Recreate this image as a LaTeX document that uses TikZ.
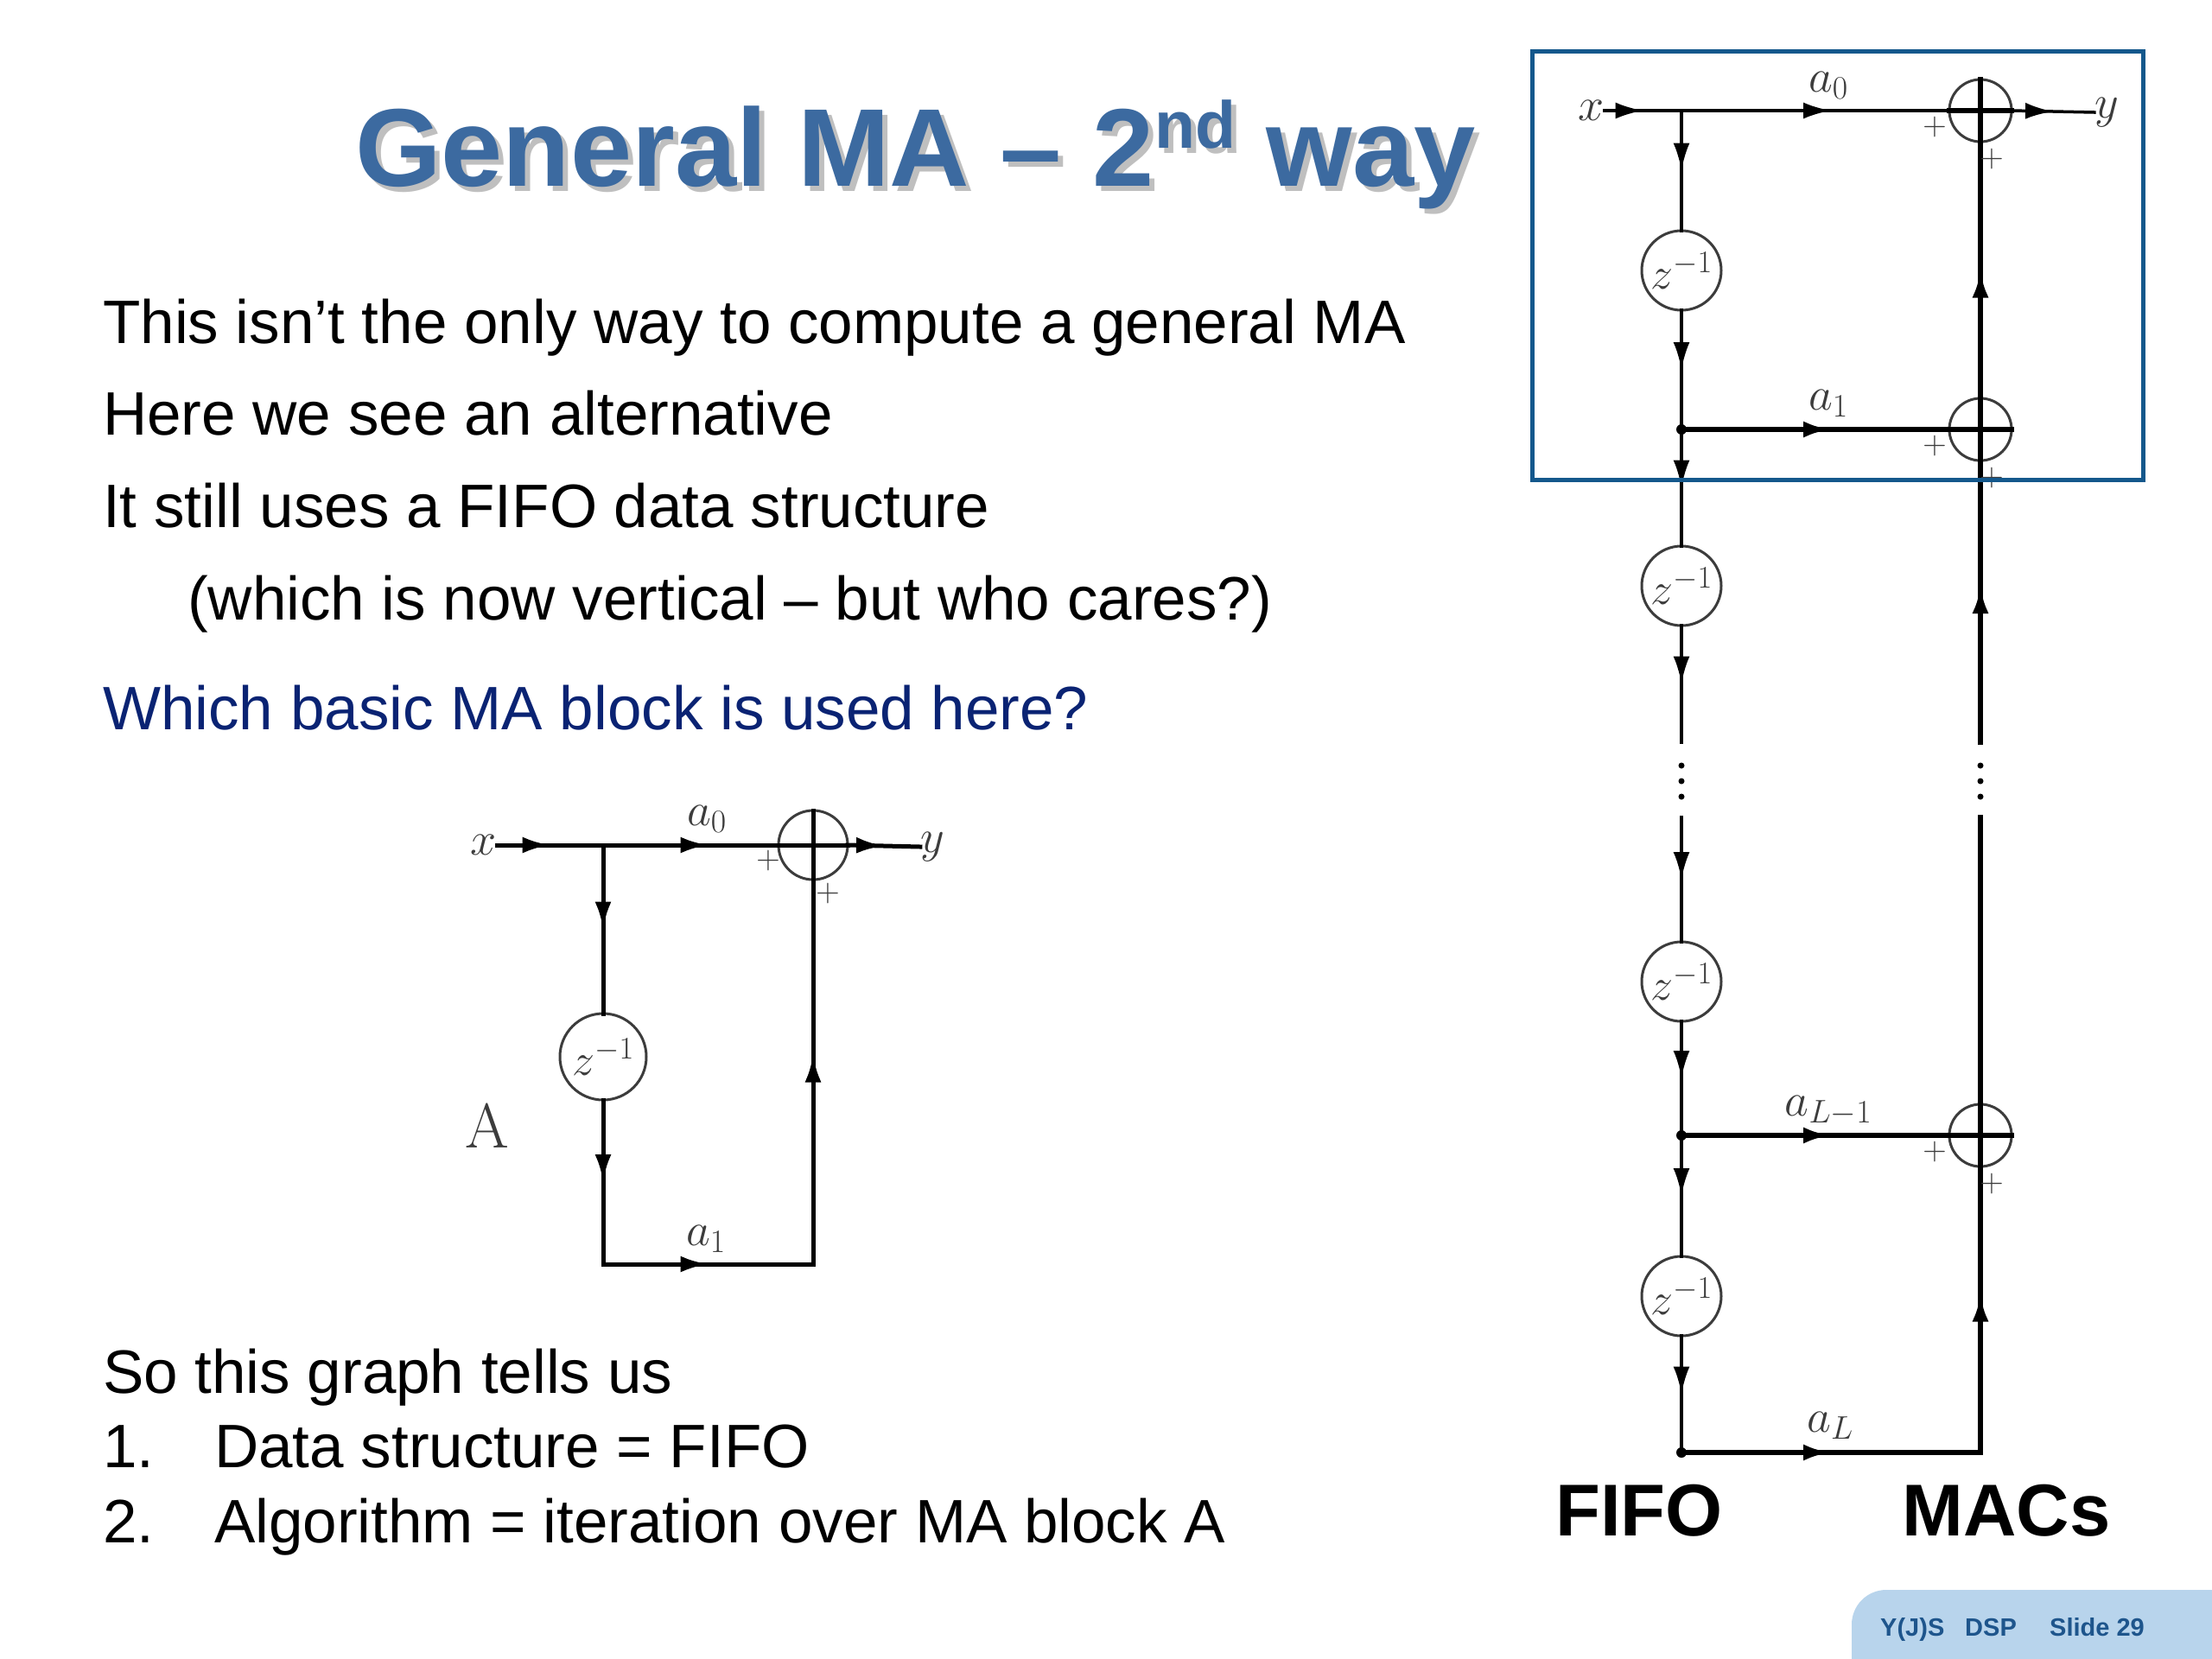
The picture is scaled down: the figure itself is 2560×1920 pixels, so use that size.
\RequirePackage{fix-cm}
\documentclass[tikz,border=0pt]{standalone}
\usepackage[no-math]{fontspec}
\setmainfont{Liberation Sans}
\usetikzlibrary{arrows.meta,decorations.markings}
\definecolor{titleblue}{RGB}{60,106,160}
\definecolor{boxblue}{RGB}{20,88,140}
\definecolor{navy}{RGB}{10,35,115}
\definecolor{footbg}{RGB}{184,212,236}
\definecolor{foottxt}{RGB}{30,85,140}
\definecolor{diagray}{RGB}{60,60,60}
\begin{document}
\begin{tikzpicture}[x=1pt,y=-1pt,
  body/.style={anchor=base west,inner sep=0pt,font=\fontsize{71}{80}\selectfont},
  titletxt/.style={anchor=base west,inner sep=0pt,font=\fontsize{128}{140}\selectfont\bfseries},
  big/.style={anchor=base,inner sep=0pt,font=\fontsize{85}{100}\selectfont\bfseries},
  foot/.style={anchor=base west,inner sep=0pt,text=foottxt,font=\fontsize{29}{34}\selectfont\bfseries},
  lbl/.style={inner sep=0pt,text=diagray,font=\fontsize{54}{60}\selectfont},
  plussign/.style={inner sep=0pt,text=diagray,font=\fontsize{38}{40}\selectfont},
  delaynode/.style={circle,draw=diagray,line width=3pt,inner sep=0pt,outer sep=0pt,minimum size=#1,text=diagray,font=\fontsize{52}{60}\selectfont},
  addernode/.style={circle,draw=diagray,line width=3pt,inner sep=0pt,outer sep=0pt,minimum size=#1},
  thinln/.style={line width=3.5pt,line cap=rect},
  thickln/.style={line width=6pt,line cap=rect},
  midln/.style={line width=5pt,line cap=rect},
  midarr/.style={postaction={decorate,decoration={markings,mark=at position 0.5 with {\arrow{Latex[length=32pt,width=19pt]}}}}},
  jdot/.style={circle,fill=black,inner sep=0pt,minimum size=12pt}
]
\useasboundingbox (0,0) rectangle (2560,1920);
\fill[white] (0,0) rectangle (2560,1920);

% ---------- title ----------
\node[titletxt,text=black!25] (titlesh) at (417,221) {General MA – 2\raisebox{44pt}{\fontsize{77}{80}\selectfont nd} way};
\node[titletxt,text=titleblue] (title) at (411,215) {General MA – 2\raisebox{44pt}{\fontsize{77}{80}\selectfont nd} way};

% ---------- body text ----------
\node[body] (t1) at (119,397) {This isn’t the only way to compute a general MA};
\node[body] (t2) at (119,503) {Here we see an alternative};
\node[body] (t3) at (119,610) {It still uses a FIFO data structure};
\node[body] (t4) at (217,717) {(which is now vertical – but who cares?)};
\node[body,text=navy] (t5) at (119,844) {Which basic MA block is used here?};
\node[body] (t6) at (119,1612) {So this graph tells us};
\node[body] (n1) at (119,1698) {1.};
\node[body] (t7) at (248,1698) {Data structure = FIFO};
\node[body] (n2) at (119,1785) {2.};
\node[body] (t8) at (248,1785) {Algorithm = iteration over MA block A};

% ---------- small diagram (block A) ----------
\node[lbl] (xA) at (560,978) {$x$};
\node[lbl] (yA) at (1079,980) {$y$};
\node[lbl] (a0A) at (818,948) {$a_0$};
\node[lbl] (a1A) at (817,1434) {$a_1$};
\node[lbl,font=\fontsize{73}{80}\selectfont] (AA) at (564,1304) {$\mathrm{A}$};
\coordinate (jA) at (698,978);
\node[addernode=80pt] (sA) at (941,978) {};
\node[delaynode=100pt] (zA) at (698,1223) {$z^{-1}$};
\coordinate (bA1) at (698,1463);
\coordinate (bA2) at (941,1463);
\draw[midln,midarr] (xA.east) -- (jA);
\draw[midln,midarr] (jA) -- (sA.center);
\draw[midln] (sA.center) -- (sA.east);
\draw[midln,midarr] (sA.east) -- (yA.west);
\draw[midln,midarr] (jA) -- (zA.north);
\draw[midln,midarr] (zA.south) -- (bA1);
\draw[midln,midarr] (bA1) -- (bA2);
\draw[midln,midarr] (bA2) -- (sA.center);
\draw[midln] (sA.center) -- (sA.north);
\node[plussign] (pA1) at (889,996) {$+$};
\node[plussign] (pA2) at (958,1034) {$+$};

% ---------- right diagram ----------
\node[lbl] (xR) at (1842,128) {$x$};
\node[lbl] (yR) at (2438,130) {$y$};
\node[lbl] (a0R) at (2116,99) {$a_0$};
\node[lbl] (a1R) at (2116,467) {$a_1$};
\node[lbl] (aLmR) at (2116,1285) {$a_{L-1}$};
\node[lbl] (aLR) at (2118,1650) {$a_L$};

\coordinate (j0) at (1946,128);
\coordinate (j1) at (1946,497);
\coordinate (j2) at (1946,1314);
\coordinate (j3) at (1946,1681);
\coordinate (g1) at (1946,859);
\coordinate (g2) at (1946,946);
\coordinate (g3) at (2292,859);
\coordinate (g4) at (2292,946);
\coordinate (c3) at (2292,1681);

\node[delaynode=92pt] (z1) at (1946,313) {$z^{-1}$};
\node[delaynode=92pt] (z2) at (1946,678) {$z^{-1}$};
\node[delaynode=92pt] (z3) at (1946,1136) {$z^{-1}$};
\node[delaynode=92pt] (z4) at (1946,1500) {$z^{-1}$};

\node[addernode=72pt] (s0) at (2292,128) {};
\node[addernode=72pt] (s1) at (2292,497) {};
\node[addernode=72pt] (s2) at (2292,1314) {};

% FIFO column
\draw[thinln,midarr] (j0) -- (z1.north);
\draw[thinln,midarr] (z1.south) -- (j1);
\draw[thinln,midarr] (j1) -- (z2.north);
\draw[thinln,midarr] (z2.south) -- (g1);
\draw[thinln,midarr] (g2) -- (z3.north);
\draw[thinln,midarr] (z3.south) -- (j2);
\draw[thinln,midarr] (j2) -- (z4.north);
\draw[thinln,midarr] (z4.south) -- (j3);

% rows
\draw[thinln,midarr] (xR.east) -- (j0);
\draw[thinln,midarr] (j0) -- (s0.center);
\draw[thickln] (s0.west) -- (s0.east);
\draw[thinln,midarr] (s0.east) -- (yR.west);
\draw[thickln,midarr] (j1) -- (s1.center);
\draw[thickln] (s1.center) -- (s1.east);
\draw[thickln,midarr] (j2) -- (s2.center);
\draw[thickln] (s2.center) -- (s2.east);
\draw[thickln,midarr] (j3) -- (c3);

% MAC column
\draw[thickln,midarr] (c3) -- (s2.center);
\draw[thickln] (s2.center) -- (g4);
\draw[thickln,midarr] (g3) -- (s1.center);
\draw[thickln,midarr] (s1.center) -- (s0.center);
\draw[thickln] (s0.center) -- (s0.north);

% junction dots
\node[jdot] (d1) at (j1) {};
\node[jdot] (d2) at (j2) {};
\node[jdot] (d3) at (j3) {};

% vertical ellipsis dots
\foreach \yy in {886,904,922}{
  \fill (1946,\yy) circle[radius=3.5pt];
  \fill (2292,\yy) circle[radius=3.5pt];
}

% plus signs
\foreach \s in {s0,s1,s2}{
  \node[plussign] at ([shift={(-53,19)}]\s.center) {$+$};
  \node[plussign] at ([shift={(13,56)}]\s.center) {$+$};
}

\node[big] (fifo) at (1897,1777) {FIFO};
\node[big] (macs) at (2322,1777) {MACs};

% highlight box
\draw[boxblue,line width=5pt] (1773,59) rectangle (2480,555);

% ---------- footer ----------
\fill[footbg] (2143,1920) [rounded corners=40pt] -- (2143,1840) [sharp corners] -- (2560,1840) -- (2560,1920) -- cycle;
\node[foot] (f1) at (2176,1893) {Y(J)S};
\node[foot] (f2) at (2274,1893) {DSP};
\node[foot] (f3) at (2372,1893) {Slide 29};
\end{tikzpicture}
\end{document}
